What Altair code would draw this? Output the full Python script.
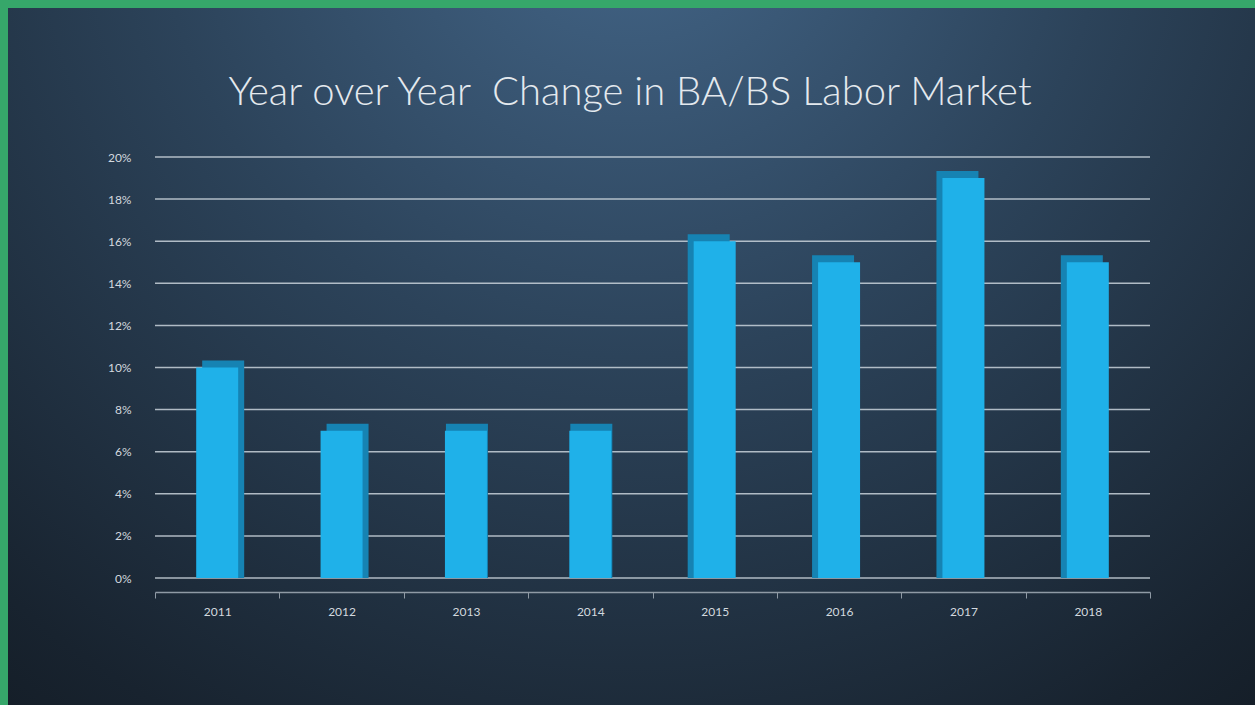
import altair as alt
import pandas as pd

years = ["2011", "2012", "2013", "2014", "2015", "2016", "2017", "2018"]
values = [10, 7, 7, 7, 16, 15, 19, 15]
y_ticks = [0, 2, 4, 6, 8, 10, 12, 14, 16, 18, 20]
title_text = "Year over Year\u00a0 Change in BA/BS Labor Market"

df = pd.DataFrame({"year": years, "value": values})

W, H = 995, 421
PAD = {"left": 155, "top": 157, "right": 105, "bottom": 127}

FONT = "Lato"
LABEL_COLOR = "#d3d9df"

x_enc = alt.X(
    "year:N",
    sort=years,
    scale=alt.Scale(paddingInner=0.0, paddingOuter=0.0),
    axis=alt.Axis(
        title=None,
        labelAngle=0,
        labelColor=LABEL_COLOR,
        labelFont=FONT,
        labelFontSize=12,
        labelPadding=8,
        domainColor="#8f9aa5",
        domainWidth=1.5,
        tickColor="#8f9aa5",
        tickBand="extent",
        tickSize=6,
        offset=14,
        grid=False,
        zindex=2,
    ),
)

y_scale = alt.Scale(domain=[0, 20], nice=False)

bg = alt.Chart(alt.Data(values=[{}])).mark_rect(
    color=alt.RadialGradient(
        gradient="radial",
        x1=0.5, y1=0.12, r1=0,
        x2=0.5, y2=0.12, r2=0.95,
        stops=[
            alt.GradientStop(offset=0, color="#44678a"),
            alt.GradientStop(offset=0.4, color="#2c435a"),
            alt.GradientStop(offset=0.8, color="#18232f"),
            alt.GradientStop(offset=1, color="#10171e"),
        ],
    ),
    clip=False,
).encode(
    x=alt.value(8 - PAD["left"]),
    x2=alt.value(W + PAD["right"]),
    y=alt.value(8 - PAD["top"]),
    y2=alt.value(H + PAD["bottom"]),
)

title = alt.Chart(alt.Data(values=[{"t": title_text}])).mark_text(
    font=FONT,
    fontSize=40,
    fontWeight=300,
    color="#e4e9ee",
    align="center",
    baseline="middle",
    clip=False,
).encode(
    text="t:N",
    x=alt.value(475),
    y=alt.value(-64),
)

grid = alt.Chart(pd.DataFrame({"t": y_ticks})).mark_rule(
    color="#c9d2db", strokeWidth=1.5, opacity=0.85
).encode(
    y=alt.Y(
        "t:Q",
        scale=y_scale,
        axis=alt.Axis(
            title=None,
            values=y_ticks,
            labelExpr="datum.value + '%'",
            labelColor=LABEL_COLOR,
            labelFont=FONT,
            labelFontSize=12,
            labelPadding=24,
            domain=False,
            ticks=False,
            grid=False,
            zindex=2,
        ),
    )
)

base = alt.Chart(df)

side_left = base.transform_filter(
    alt.FieldOneOfPredicate(field="year", oneOf=["2011", "2012"])
).mark_bar(size=42, color="#1683b3", yOffset=-7, xOffset=6).encode(
    x=x_enc, y=alt.Y("value:Q", scale=y_scale), y2=alt.datum(0)
)
side_mid = base.transform_filter(
    alt.FieldOneOfPredicate(field="year", oneOf=["2013", "2014"])
).mark_bar(size=42, color="#1683b3", yOffset=-7, xOffset=1).encode(
    x=x_enc, y=alt.Y("value:Q", scale=y_scale), y2=alt.datum(0)
)
side_right = base.transform_filter(
    alt.FieldOneOfPredicate(field="year", oneOf=["2015", "2016", "2017", "2018"])
).mark_bar(size=42, color="#1683b3", yOffset=-7, xOffset=-6).encode(
    x=x_enc, y=alt.Y("value:Q", scale=y_scale), y2=alt.datum(0)
)

front = base.mark_bar(size=42, color="#1fb1e9").encode(
    x=x_enc,
    y=alt.Y("value:Q", scale=y_scale),
    y2=alt.datum(0),
)

chart = alt.layer(bg, title, grid, side_left, side_mid, side_right, front).properties(
    width=W,
    height=H,
    padding=PAD,
    autosize=alt.AutoSizeParams(type="none"),
).configure(
    background="#36a76a",
).configure_view(
    stroke=None,
)

chart.save("out.html", embed_options={"renderer": "svg", "actions": False})
